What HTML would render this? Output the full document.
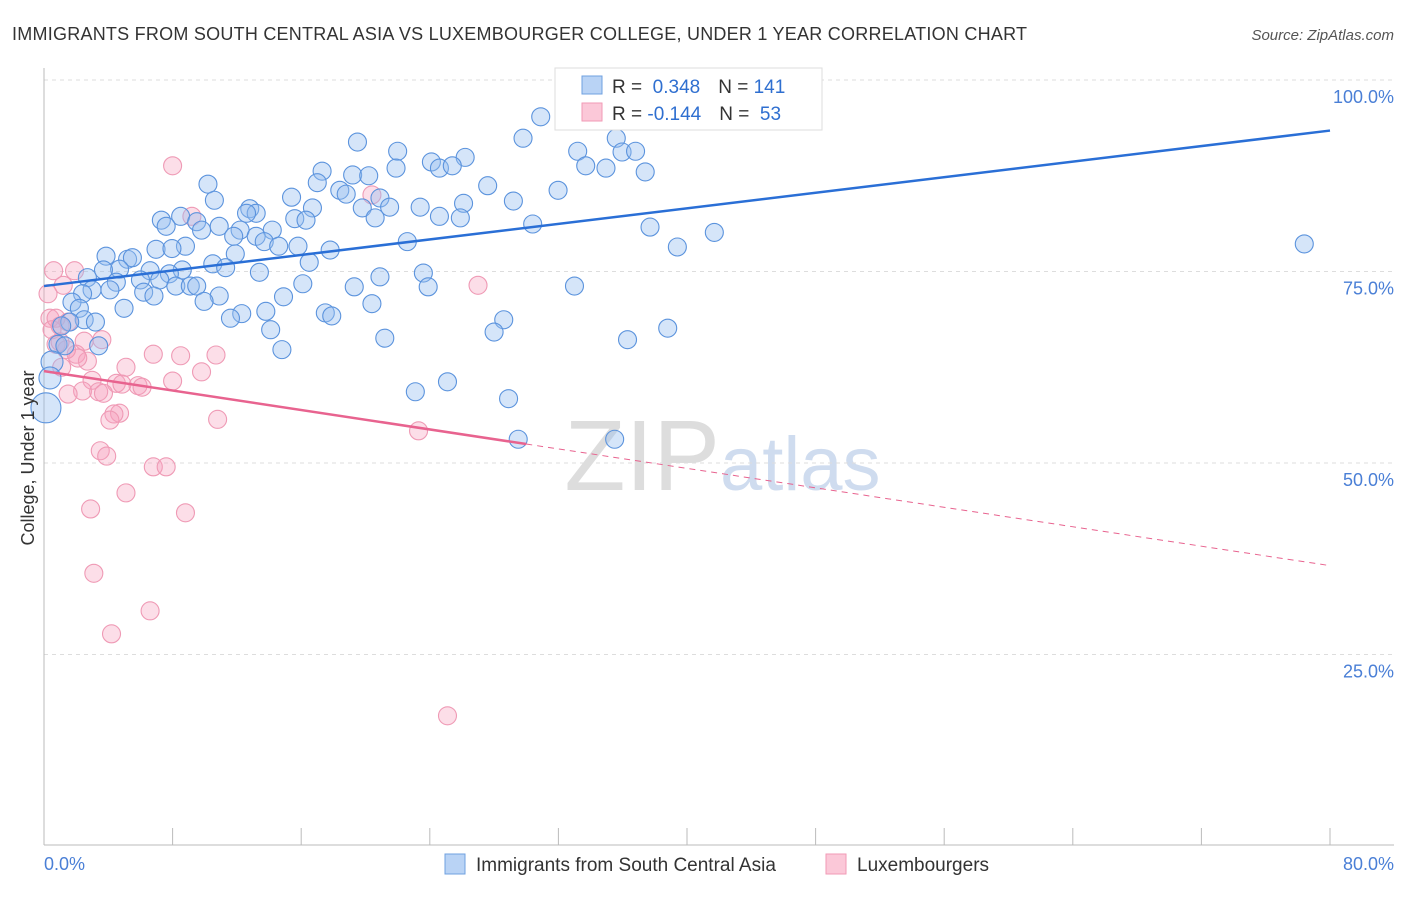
<!DOCTYPE html>
<html><head><meta charset="utf-8">
<style>
body{margin:0;background:#fff;font-family:"Liberation Sans",sans-serif;}
svg text{font-family:"Liberation Sans",sans-serif;}
</style></head>
<body>
<svg id="chart" width="1406" height="892" xmlns="http://www.w3.org/2000/svg">
<text x="12" y="40" font-size="18" fill="#333" textLength="1015">IMMIGRANTS FROM SOUTH CENTRAL ASIA VS LUXEMBOURGER COLLEGE, UNDER 1 YEAR CORRELATION CHART</text>
<text x="1394" y="40" font-size="15" fill="#555" font-style="italic" text-anchor="end">Source: ZipAtlas.com</text>
<text x="720" y="490" font-size="100" fill="#ddd" text-anchor="end" font-family="Liberation Serif">ZIP</text>
<text x="720" y="490" font-size="76" fill="#cfdcef">atlas</text>
<g id="grid"></g>
<g id="marks"></g>
<text transform="translate(34,458) rotate(-90)" font-size="18" fill="#333" text-anchor="middle">College, Under 1 year</text>
<g>
<rect x="555" y="68" width="267" height="62" fill="#fff" stroke="#ddd"/>
<rect x="582" y="76" width="20" height="18" fill="#b9d3f5" stroke="#6fa0e0"/>
<rect x="582" y="103" width="20" height="18" fill="#fbc8d8" stroke="#f29ab6"/>
<text x="612" y="93" font-size="19" fill="#333">R = <tspan fill="#2f6fd0">&#160;0.348</tspan><tspan dx="18">N = </tspan><tspan fill="#2f6fd0">141</tspan></text>
<text x="612" y="120" font-size="19" fill="#333">R = <tspan fill="#2f6fd0">-0.144</tspan><tspan dx="18">N = </tspan><tspan fill="#2f6fd0">&#160;53</tspan></text>
</g>
<g>
<rect x="445" y="854" width="20" height="20" fill="#b9d3f5" stroke="#6fa0e0"/>
<text x="476" y="871" font-size="19" fill="#333">Immigrants from South Central Asia</text>
<rect x="826" y="854" width="20" height="20" fill="#fbc8d8" stroke="#f29ab6"/>
<text x="857" y="871" font-size="19" fill="#333">Luxembourgers</text>
</g>
</svg>
<script>
const yTicks=[100,75,50,25];
const yTickLabels=["100.0%","75.0%","50.0%","25.0%"];
const xTicks=[0,8,16,24,32,40,48,56,64,72,80];
const blueX=[30.9,29.8,19.5,22.0,33.2,35.6,35.96,36.8,26.2,24.1,24.6,25.4,21.9,33.7,34.96,37.4,17.3,19.2,20.2,17.0,10.2,27.6,18.4,18.8,31.98,15.4,10.6,20.9,29.2,26.1,23.4,16.7,19.8,12.8,21.5,13.2,12.6,24.6,25.9,20.6,15.6,16.3,8.5,7.3,7.6,9.5,10.9,30.4,37.7,41.7,12.2,11.8,14.2,13.2,9.8,13.7,14.6,15.8,8.8,22.6,39.4,78.4,6.97,7.96,17.8,11.9,3.86,5.2,5.5,16.5,10.5,11.3,4.7,3.7,6.6,8.6,13.4,7.8,23.6,20.9,2.7,4.5,6.0,7.2,16.1,8.2,9.1,9.5,23.9,33.0,19.3,2.99,4.1,2.4,6.2,6.84,10.9,14.9,9.96,1.74,20.4,2.2,4.98,12.3,13.8,17.5,17.9,11.6,28.6,2.5,1.6,3.2,1.1,38.8,28.0,14.1,21.2,36.3,0.87,1.3,3.4,14.8,0.5,25.1,0.37,23.1,28.9,0.12,29.5,35.5];
const blueY=[95.2,92.4,91.9,90.7,90.7,92.4,90.6,90.7,89.9,89.3,88.5,88.8,88.5,88.8,88.5,88.0,88.1,87.6,87.5,86.6,86.4,86.2,85.6,85.1,85.6,84.7,84.3,84.6,84.2,83.9,83.4,83.3,83.3,83.2,83.4,82.6,82.6,82.2,82.0,82.0,81.9,81.7,82.2,81.7,80.9,81.5,80.9,81.2,80.8,80.1,80.4,79.6,80.4,79.6,80.4,78.9,78.3,78.3,78.3,78.9,78.2,78.6,77.9,78.0,77.8,77.3,77.0,76.6,76.8,76.2,76.0,75.5,75.3,75.2,75.1,75.2,74.9,74.7,74.8,74.3,74.2,73.6,73.9,73.9,73.4,73.1,73.1,73.1,73.0,73.1,73.0,72.6,72.6,72.1,72.3,71.8,71.8,71.7,71.1,71.0,70.8,70.2,70.2,69.5,69.8,69.6,69.2,68.9,68.7,68.7,68.4,68.4,67.9,67.6,67.1,67.4,66.3,66.1,65.5,65.3,65.3,64.8,63.2,60.6,61.1,59.3,58.4,57.2,53.1,53.1];
const pinkX=[8.0,20.4,9.2,0.6,1.9,1.2,27.0,0.25,0.37,1.0,1.5,0.5,2.5,0.75,2.0,6.8,8.5,10.7,2.7,2.1,1.1,5.1,9.8,2.99,8.0,4.5,4.85,5.85,6.1,2.4,3.4,1.5,3.7,4.7,4.35,4.1,10.8,23.3,3.5,3.9,6.8,7.6,5.1,2.9,8.8,3.1,6.6,4.2,25.1,1.0,1.4,3.6,0.75];
const pinkY=[88.8,85.0,82.2,75.1,75.1,73.2,73.2,72.1,68.9,67.9,68.4,67.4,65.9,65.5,64.2,64.2,64.0,64.1,63.3,63.7,62.5,62.5,61.9,60.8,60.7,60.4,60.3,60.1,59.9,59.4,59.3,59.0,59.1,56.5,56.4,55.6,55.7,54.2,51.6,50.9,49.5,49.5,46.1,44.0,43.5,35.6,30.7,27.7,17.0,65.8,64.8,66.1,68.9];
const blueTrend=[73.1,93.4];
const pinkTrend=[62.0,36.6];
const pinkSolidEnd=30;

const NS="http://www.w3.org/2000/svg";
const X0=44,X1=1330,Y0=846,Y100=80;
function sx(v){return X0+v/80*(X1-X0);}
function sy(v){return Y0-v/100*(Y0-Y100);}
function mk(tag,attrs,parent){const e=document.createElementNS(NS,tag);for(const k in attrs)e.setAttribute(k,attrs[k]);parent.appendChild(e);return e;}
const grid=document.getElementById('grid'),marks=document.getElementById('marks');
yTicks.forEach((t,i)=>{
  const l=mk('line',{x1:X0,x2:1394,y1:sy(t),y2:sy(t),stroke:'#ddd','stroke-dasharray':'4,4'},grid);
  
  
  const tx=mk('text',{x:1394,y:sy(t)+23,'font-size':18,fill:'#4a7fd6','text-anchor':'end'},grid);
  tx.textContent=yTickLabels[i];
  
  
});
const ax=mk('line',{x1:X0,x2:1394,y1:845,y2:845,stroke:'#bbb'},grid);


const ay=mk('line',{x1:X0,x2:X0,y1:68,y2:845,stroke:'#bbb'},grid);


xTicks.forEach(t=>{
  const l=mk('line',{x1:sx(t),x2:sx(t),y1:828,y2:845,stroke:'#bbb'},grid);
  
  
});
const xl0=mk('text',{x:44,y:870,'font-size':18,fill:'#4a7fd6'},grid);xl0.textContent='0.0%';


const xl1=mk('text',{x:1394,y:870,'font-size':18,fill:'#4a7fd6','text-anchor':'end'},grid);xl1.textContent='80.0%';



pinkX.forEach((x,i)=>{
  const c=mk('circle',{cx:sx(x),cy:sy(pinkY[i]),r:9,fill:'rgba(245,160,190,0.35)',stroke:'#ef9ab5','stroke-width':1.1},marks);
  
  
});
blueX.forEach((x,i)=>{
  const big=x<0.2;
  const c=mk('circle',{cx:sx(x),cy:sy(blueY[i]),r:big?15:(x<0.6?11:9),fill:'rgba(150,190,240,0.4)',stroke:'#5b93dd','stroke-width':1.1},marks);
  
  
});
const bt=mk('line',{x1:sx(0),y1:sy(blueTrend[0]),x2:sx(80),y2:sy(blueTrend[1]),stroke:'#2a6fd6','stroke-width':2.5},marks);


const pAt=v=>pinkTrend[0]+(pinkTrend[1]-pinkTrend[0])*v/80;
const ps=mk('line',{x1:sx(0),y1:sy(pinkTrend[0]),x2:sx(pinkSolidEnd),y2:sy(pAt(pinkSolidEnd)),stroke:'#e8638f','stroke-width':2.5},marks);


const pd=mk('line',{x1:sx(pinkSolidEnd),y1:sy(pAt(pinkSolidEnd)),x2:sx(80),y2:sy(pinkTrend[1]),stroke:'#e8638f','stroke-width':1,'stroke-dasharray':'6,5'},marks);


</script>
</body></html>
